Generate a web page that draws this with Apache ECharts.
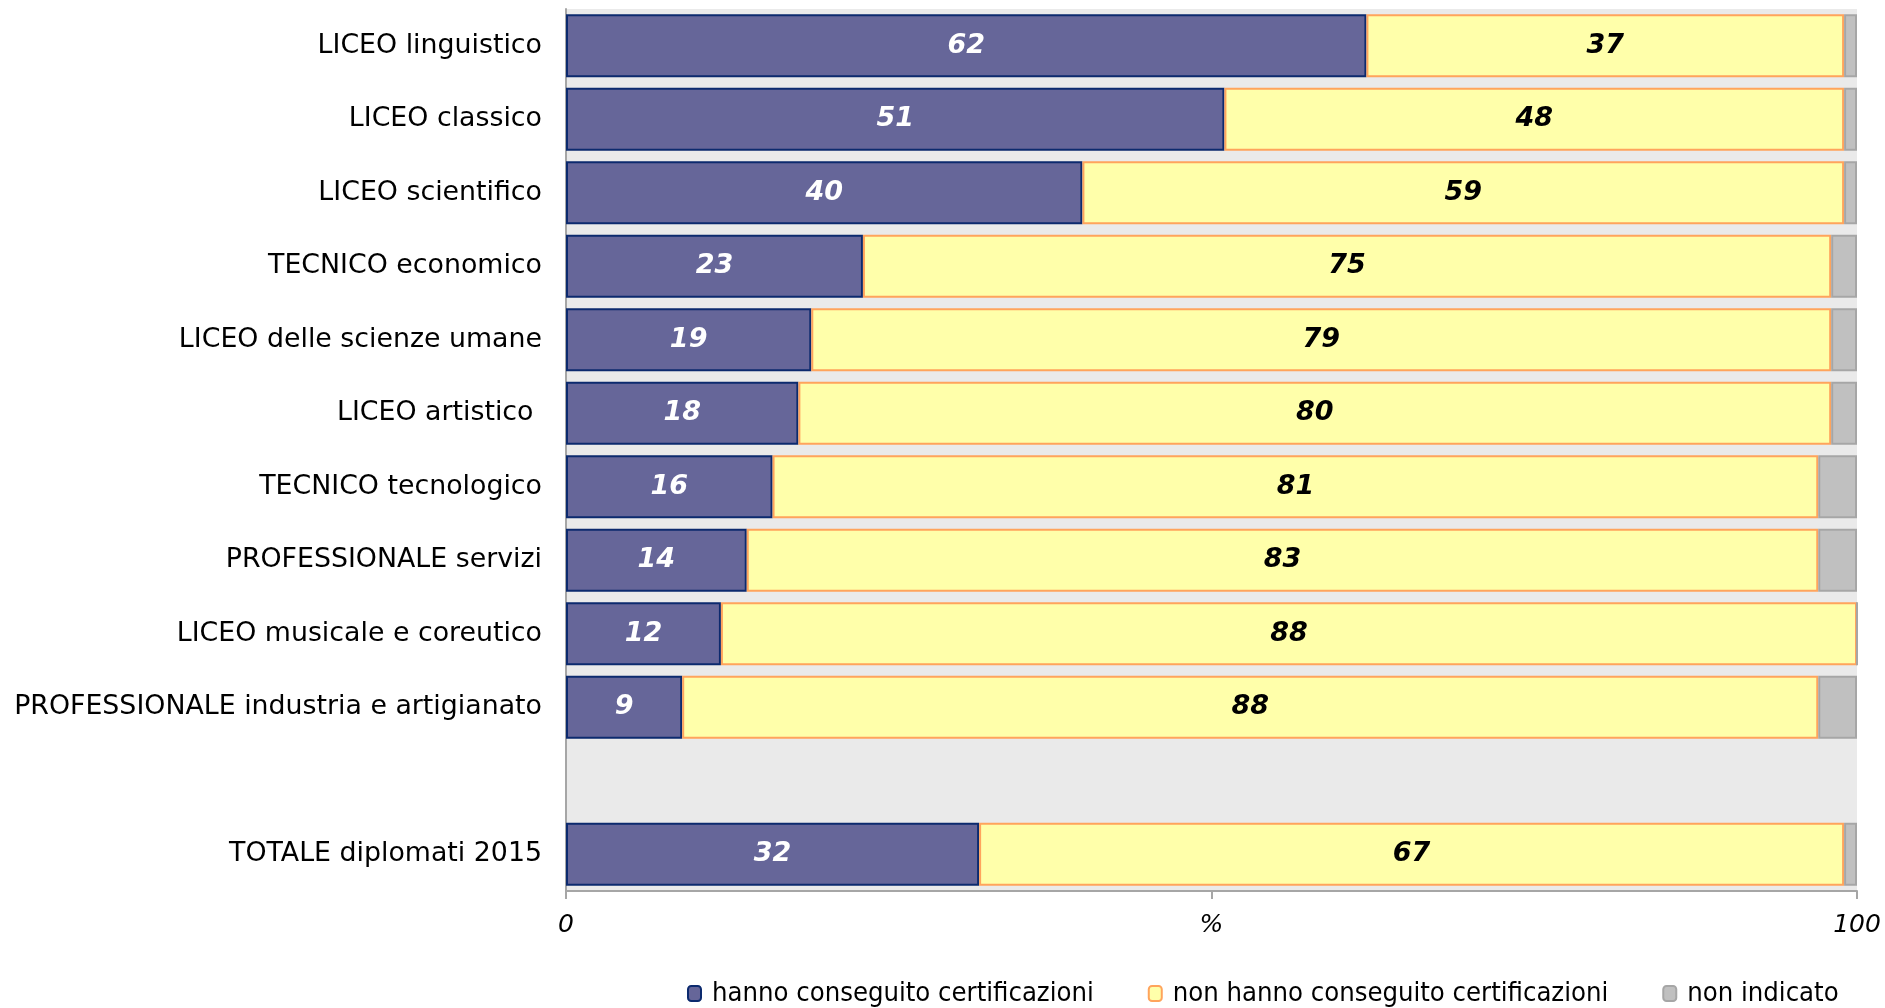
<!DOCTYPE html>
<html>
<head>
<meta charset="utf-8">
<script src="https://cdn.jsdelivr.net/npm/echarts@6/dist/echarts.min.js"></script>
<style>
  html, body { margin: 0; padding: 0; background: #ffffff; }
  #chart { width: 1885px; height: 1008px; }
</style>
</head>
<body>
<div id="chart"></div>
<script>
// Indirizzi di studio (dall'alto verso il basso); la riga vuota separa il totale
const categories = [
  'LICEO linguistico',
  'LICEO classico',
  'LICEO scientifico',
  'TECNICO economico',
  'LICEO delle scienze umane',
  'LICEO artistico ',
  'TECNICO tecnologico',
  'PROFESSIONALE servizi',
  'LICEO musicale e coreutico',
  'PROFESSIONALE industria e artigianato',
  '',
  'TOTALE diplomati 2015'
];

// Percentuali per indirizzo
const conseguito    = [62, 51, 40, 23, 19, 18, 16, 14, 12, 9, null, 32];
const nonConseguito = [37, 48, 59, 75, 79, 80, 81, 83, 88, 88, null, 67];
const nonIndicato   = [1, 1, 1, 2, 2, 2, 3, 3, 0, 3, null, 1];

// Etichette dell'asse delle ascisse
const xTickLabels = { 0: '0', 50: '%', 100: '100' };

const FONT = 'DejaVu Sans, Verdana, sans-serif';

const chart = echarts.init(document.getElementById('chart'), null, { renderer: 'canvas' });

const labelStyle = (color) => ({
  show: true,
  position: 'inside',
  color: color,
  fontFamily: FONT,
  fontSize: 27,
  fontStyle: 'italic',
  fontWeight: 'bold',
  formatter: (p) => (p.value == null ? '' : p.value)
});

chart.setOption({
  animation: false,
  backgroundColor: '#ffffff',
  grid: {
    left: 566,
    right: 28,
    top: 9,
    bottom: 117,
    show: true,
    backgroundColor: '#eaeaea',
    borderWidth: 0
  },
  legend: {
    left: 682,
    top: 975,
    itemWidth: 13,
    itemHeight: 15,
    itemGap: 54,
    textStyle: {
      fontFamily: 'DejaVu Sans Condensed, ' + FONT,
      fontSize: 27.2,
      color: '#000000',
      padding: [0, 0, 0, 6]
    },
    data: ['hanno conseguito certificazioni', 'non hanno conseguito certificazioni', 'non indicato']
  },
  xAxis: {
    type: 'value',
    min: 0,
    max: 100,
    interval: 50,
    axisLine: { show: true, lineStyle: { color: '#a6a6a6', width: 2 } },
    axisTick: { show: true, length: 8, lineStyle: { color: '#a6a6a6', width: 2 } },
    splitLine: { show: false },
    axisLabel: {
      margin: 22,
      fontFamily: FONT,
      fontSize: 25,
      fontStyle: 'italic',
      color: '#000000',
      formatter: (v) => xTickLabels[v] ?? ''
    }
  },
  yAxis: {
    type: 'category',
    inverse: true,
    data: categories,
    axisLine: { show: true, lineStyle: { color: '#a6a6a6', width: 2 } },
    axisTick: { show: false },
    axisLabel: {
      margin: 24,
      fontFamily: FONT,
      fontSize: 26.8,
      color: '#000000'
    }
  },
  series: [
    {
      name: 'hanno conseguito certificazioni',
      type: 'bar',
      stack: 'tot',
      barCategoryGap: '14%',
      data: conseguito,
      itemStyle: { color: '#666699', borderColor: '#0c2a6e', borderWidth: 2 },
      label: labelStyle('#ffffff')
    },
    {
      name: 'non hanno conseguito certificazioni',
      type: 'bar',
      stack: 'tot',
      data: nonConseguito,
      itemStyle: { color: '#ffffaa', borderColor: '#ffa45c', borderWidth: 2 },
      label: labelStyle('#000000')
    },
    {
      name: 'non indicato',
      type: 'bar',
      stack: 'tot',
      data: nonIndicato,
      itemStyle: { color: '#c0c0c0', borderColor: '#a6a6a6', borderWidth: 2 },
      label: { show: false }
    }
  ]
});
</script>
</body>
</html>
